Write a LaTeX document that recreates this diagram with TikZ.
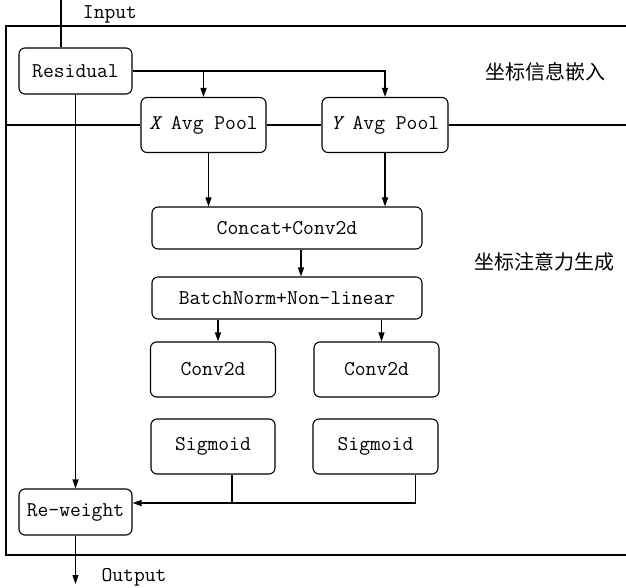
\documentclass[tikz,border=0pt]{standalone}
\usepackage{fontspec}
\newfontfamily\cjkfont{Noto Sans CJK SC}
\usetikzlibrary{arrows.meta}

\begin{document}
\begin{tikzpicture}[x=1pt,y=-1pt,line width=1.1pt,
	>={Triangle[length=9pt,width=6pt]},
	box/.style={draw,rounded corners=6pt,inner sep=0pt,font=\ttfamily\fontsize{21}{22}\selectfont},
	plain/.style={font=\ttfamily\fontsize{21}{22}\selectfont},
	zh/.style={font=\cjkfont\fontsize{20}{21}\selectfont}]
	\useasboundingbox (0,0) rectangle (626,588);

	% outer frame and split line
	\draw (626,26) -- (6,26) -- (6,555) -- (626,555);

	\node[box,minimum width=113,minimum height=46] (res) at (75.5,71) {Residual};
	\node[box,minimum width=125,minimum height=55] (xpool) at (203.5,125) {{\itshape X} Avg Pool};
	\node[box,minimum width=126,minimum height=55] (ypool) at (385,125) {{\itshape Y} Avg Pool};
	\node[box,minimum width=270,minimum height=42] (concat) at (287,228) {Concat+Conv2d};
	\node[box,minimum width=270,minimum height=42] (bn) at (287,298) {BatchNorm+Non-linear};
	\node[box,minimum width=125,minimum height=55] (convx) at (213,369.5) {Conv2d};
	\node[box,minimum width=125,minimum height=55] (convy) at (376.5,369.5) {Conv2d};
	\node[box,minimum width=124,minimum height=55] (sigx) at (213,446.5) {Sigmoid};
	\node[box,minimum width=125,minimum height=55] (sigy) at (375.5,446.5) {Sigmoid};
	\node[box,minimum width=113,minimum height=46] (rew) at (75.5,512) {Re-weight};

	\node[plain] (input) at (110,14) {Input};
	\node[plain] (output) at (134,577) {Output};
	\node[zh] (embed) at (545,72) {坐标信息嵌入};
	\node[zh] (attn) at (544,262) {坐标注意力生成};

	\coordinate (left) at (6,125);
	\coordinate (right) at (626,125);
	\coordinate (in) at (61,0);
	\coordinate (out) at (75.5,584);

	\draw (left) -- (xpool.west);
	\draw (xpool.east) -- (ypool.west);
	\draw (ypool.east) -- (right);

	\draw (in) -- (in |- res.north);
	\draw[->] (res.east) -| (ypool.north);
	\draw[->] (xpool.north |- res.east) -- (xpool.north);
	\draw[->] (res.south) -- (rew.north);
	\draw[->] ([xshift=5pt]xpool.south) -- ([xshift=5pt]xpool.south |- concat.north);
	\draw[->] (ypool.south) -- (ypool.south |- concat.north);
	\draw[->] ([xshift=14pt]concat.south) -- ([xshift=14pt]concat.south |- bn.north);
	\draw[->] ([xshift=5pt]convx.north |- bn.south) -- ([xshift=5pt]convx.north);
	\draw[->] ([xshift=5pt]convy.north |- bn.south) -- ([xshift=5pt]convy.north);
	\draw[->] ([xshift=40pt]sigy.south) |- ([yshift=9pt]rew.east);
	\draw ([xshift=19pt]sigx.south) -- ++(0,29);
	\draw[->] (rew.south) -- (out);
\end{tikzpicture}
\end{document}
